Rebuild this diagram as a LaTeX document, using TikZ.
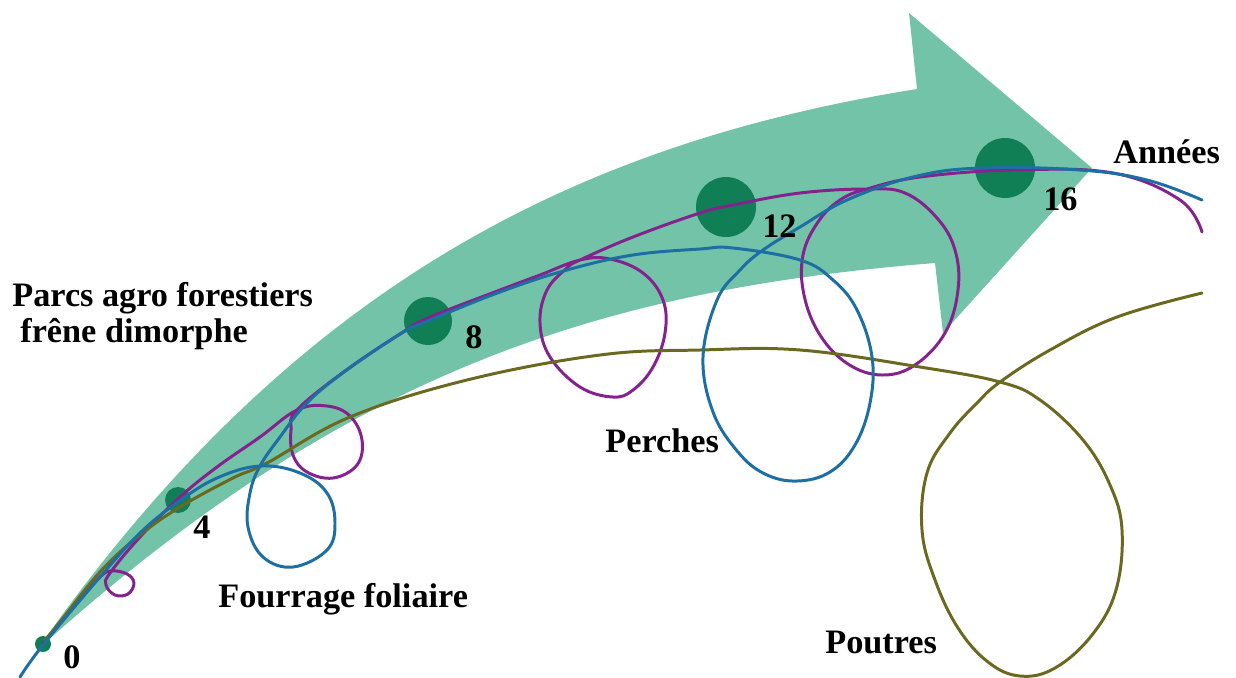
\documentclass[tikz,border=0pt]{standalone}
\usepackage{fontspec}
\setmainfont{Liberation Serif}
\definecolor{bandgreen}{HTML}{72C3A7}
\definecolor{dotgreen}{HTML}{117F55}
\definecolor{cblue}{HTML}{1D6FA3}
\definecolor{cpurple}{HTML}{84238E}
\definecolor{colive}{HTML}{6B6820}
\begin{document}
\begin{tikzpicture}[x=0.02cm,y=-0.02cm,
  lbl/.style={font=\fontsize{19.5}{21}\selectfont\bfseries, inner sep=0, anchor=base west},
  dot/.style={circle, fill=dotgreen, inner sep=0},
  curve/.style={line width=1.7pt, line cap=round, line join=round}]
\useasboundingbox (0,0) rectangle (1236,677);
% green band arrow
\fill[bandgreen] (37,650) .. controls (287,293) and (567,145) .. (917,89)
  -- (909,13) -- (1092,168) -- (943,333) -- (935,263)
  .. controls (585,291) and (337,380) .. (37,650) -- cycle;
% dots
\node[dot, minimum size=0.32cm] (d0) at (43,644) {};
\node[dot, minimum size=0.52cm] (d4) at (178,500) {};
\node[dot, minimum size=0.96cm] (d8) at (428,321) {};
\node[dot, minimum size=1.2cm] (d12) at (726,207) {};
\node[dot, minimum size=1.2cm] (d16) at (1005,168) {};
% purple curve
\draw[curve, cpurple] plot[smooth, tension=0.65] coordinates {(43,644) (70,610) (100,577) (112,571) (127,574) (134,583) (128,594) (115,595) (106,585) (110,573) (140,537) (180,497) (217,467) (260,437) (297,410) (327,406) (350,416) (362,440) (357,465) (333,478) (307,472) (293,455) (291,430) (297,410) (345,371) (400,334) (428,318) (500,290) (540,275) (580,260) (610,259) (643,273) (663,300) (665,333) (653,367) (633,390) (613,397) (580,387) (550,357) (540,323) (547,290) (567,268) (580,260) (633,237) (700,213) (733,205) (800,193) (867,189) (905,193) (937,218) (955,250) (958,290) (945,333) (915,365) (882,375) (848,364) (820,335) (804,295) (803,255) (818,222) (840,200) (867,189) (920,177) (1013,170) (1113,173) (1180,200) (1202,232)};
% olive curve
\draw[curve, colive] plot[smooth, tension=0.65] coordinates {(45,640) (60,622) (100,572) (140,535) (180,507) (233,478) (267,463) (350,417) (467,380) (600,355) (700,350) (800,350) (920,367) (1000,382) (1040,400) (1083,440) (1110,485) (1122,530) (1116,590) (1092,635) (1055,668) (1020,676) (988,662) (958,628) (935,580) (922,530) (927,473) (950,433) (977,403) (1000,382) (1050,350) (1117,317) (1202,293)};
% blue curve
\draw[curve, cblue] plot[smooth, tension=0.65] coordinates {(20,677) (43,645) (100,577) (140,533) (178,502) (217,478) (260,466) (300,473) (327,493) (335,523) (327,550) (293,567) (263,557) (248,527) (250,493) (260,466) (280,437) (305,405) (340,375) (400,334) (428,321) (500,292) (567,270) (633,255) (700,249) (733,248) (800,260) (833,280) (857,310) (872,357) (870,403) (855,445) (830,472) (797,481) (765,474) (738,452) (713,412) (703,357) (717,300) (740,270) (763,250) (800,227) (847,200) (913,177) (980,168) (1080,170) (1147,180) (1202,200)};
% labels
\node[lbl] (t0) at (63,668) {0};
\node[lbl] (t4) at (193,538) {4};
\node[lbl] (t8) at (465,348) {8};
\node[lbl] (t12) at (762,237) {12};
\node[lbl] (t16) at (1043,210) {16};
\node[lbl] (tann) at (1113,163) {Années};
\node[lbl] (tparc) at (12,306) {Parcs agro forestiers};
\node[lbl] (tfrene) at (20,342) {frêne dimorphe};
\node[lbl] (tfour) at (218,607) {Fourrage foliaire};
\node[lbl] (tper) at (605,452) {Perches};
\node[lbl] (tpou) at (825,653) {Poutres};
\end{tikzpicture}
\end{document}
